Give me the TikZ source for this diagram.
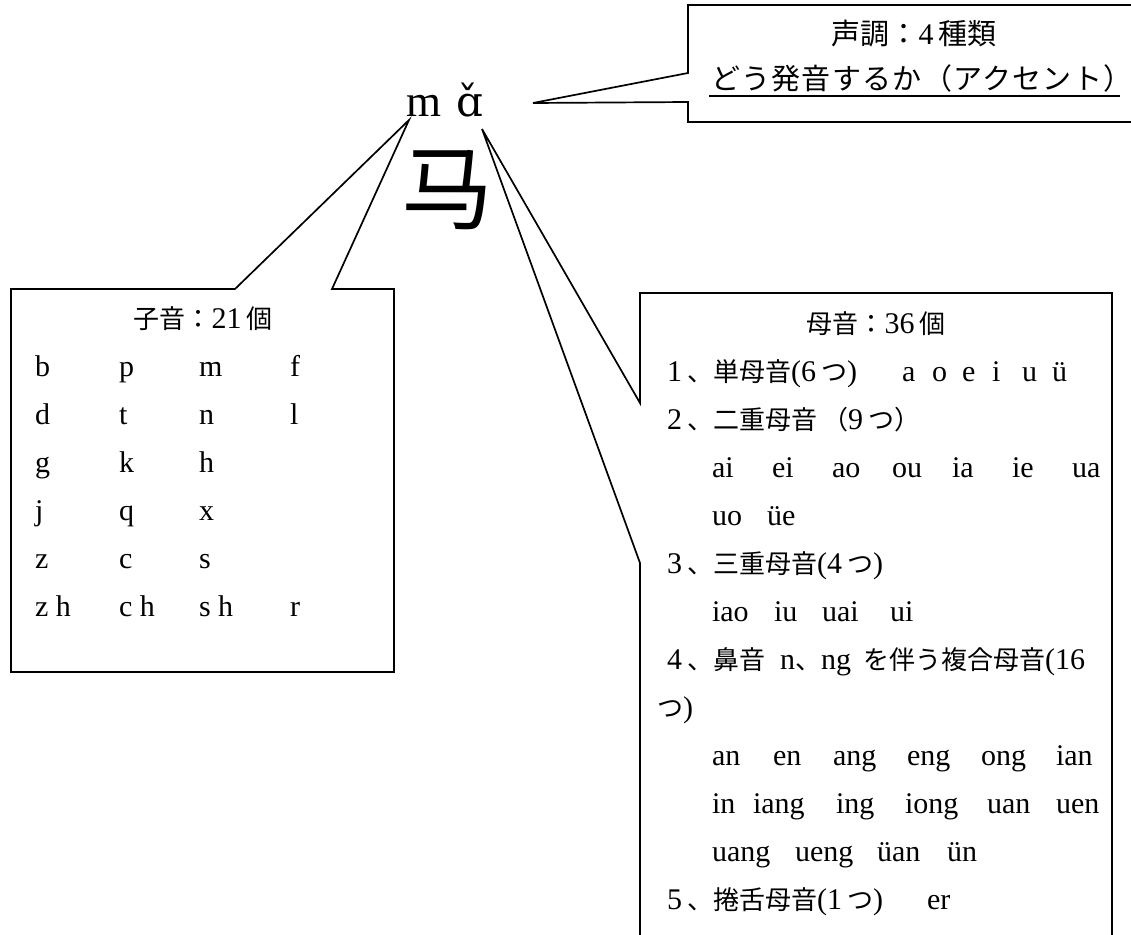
\documentclass[tikz,border=0pt]{standalone}
\usepackage{fontspec}
\setmainfont{Liberation Serif}
\newfontfamily\jpfont{Noto Sans CJK JP}
\newfontfamily\ipafont{DejaVu Serif}
\newcommand\J[1]{{\jpfont\fontsize{26}{26}\selectfont #1}}
\newcommand\JT[1]{{\jpfont\fontsize{29}{29}\selectfont #1}}
\newcommand\Dg[1]{\makebox[25pt][c]{#1}}
\begin{document}
\begin{tikzpicture}[x=1pt,y=-1pt,line width=1.7pt,line join=miter,
  every node/.style={inner sep=0pt,outer sep=0pt},
  lat/.style={anchor=base west,font=\fontsize{30}{30}\selectfont},
  mid/.style={anchor=base,font=\fontsize{30}{30}\selectfont},
  callout/.style={draw=black,line width=1.7pt}]
\useasboundingbox (0,0) rectangle (1131,934);
\fill[white] (0,0) rectangle (1131,934);

% apex points of the callouts
\coordinate (apexL) at (409,120);
\coordinate (apexR) at (482,129);
\coordinate (tipT) at (533,103);

% pinyin and character
\node[anchor=base west,font=\fontsize{45}{45}\selectfont] (m) at (406,116) {m};
\node[anchor=base west,font=\ipafont\fontsize{42}{42}\selectfont] (a) at (456,116) {ɑ̌};
\node[anchor=center,font=\jpfont\fontsize{92}{92}\selectfont] (ma) at (447,190) {马};

% top callout (tones)
\draw[callout] (1140,5) -- (688,5) -- (688,73) -- (tipT) -- (688,102) -- (688,122) -- (1140,122);
\node[mid] (tone1) at (914,45) {\JT{声調：}4\,\JT{種類}};
\node[anchor=base west] (tone2) at (711,89) {\jpfont\fontsize{29}{29}\selectfont\addfontfeature{LetterSpace=4.5}どう発音するか（アクセント）};
\draw[line width=1.7pt] (709,96) -- (1120,96);

% left callout (consonants)
\draw[callout] (apexL) -- (332,289) -- (394,289) -- (394,672) -- (11,672) -- (11,289) -- (235,289) -- cycle;
\node[mid] (ctitle) at (203,328) {\J{子音：}21\,\J{個}};
\foreach \y/\a/\b/\c/\d in {376/b/p/m/f, 424/d/t/n/l, 472/g/k/h/, 520/j/q/x/, 568/z/c/s/, 616/z h/c h/s h/r}{
  \node[lat] at (35,\y) {\a};
  \node[lat] at (119,\y) {\b};
  \node[lat] at (199,\y) {\c};
  \node[lat] at (290,\y) {\d};
}

% right callout (vowels)
\draw[callout] (640,940) -- (640,563) -- (apexR) -- (640,403) -- (640,293) -- (1112,293) -- (1112,940);
\node[mid] (vtitle) at (876,333) {\J{母音：}36\,\J{個}};
% row 1
\node[lat] (r1) at (662,381) {\Dg{1}\J{、単母音}(6\,\J{つ})};
\foreach \x/\w in {902/a,932/o,962/e,992/i,1022/u,1052/ü}{\node[lat] at (\x,381) {\w};}
% row 2
\node[lat] (r2) at (662,429) {\Dg{2}\J{、二重母音}\,\J{（}9\,\J{つ）}};
% row 3
\foreach \x/\w in {712/ai,772/ei,832/ao,892/ou,952/ia,1012/ie,1072/ua}{\node[lat] at (\x,477) {\w};}
% row 4
\foreach \x/\w in {712/uo,767/üe}{\node[lat] at (\x,525) {\w};}
% row 5
\node[lat] (r5) at (662,573) {\Dg{3}\J{、三重母音}(4\,\J{つ})};
% row 6
\foreach \x/\w in {712/iao,774/iu,822/uai,890/ui}{\node[lat] at (\x,621) {\w};}
% row 7
\node[lat] (r7a) at (662,669) {\Dg{4}\J{、鼻音}};
\node[lat] (r7b) at (780,669) {n\J{、}ng};
\node[lat] (r7c) at (863,669) {\J{を伴う複合母音}(16};
% row 8
\node[lat] (r8) at (657,717) {\J{つ})};
% row 9
\foreach \x/\w in {712/an,773/en,833/ang,907/eng,981/ong,1056/ian}{\node[lat] at (\x,765) {\w};}
% row 10
\foreach \x/\w in {712/in,753/iang,836/ing,905/iong,987/uan,1056/uen}{\node[lat] at (\x,813) {\w};}
% row 11
\foreach \x/\w in {712/uang,795/ueng,877/üan,947/ün}{\node[lat] at (\x,861) {\w};}
% row 12
\node[lat] (r12) at (662,909) {\Dg{5}\J{、捲舌母音}(1\,\J{つ})};
\node[lat] (er) at (927,909) {er};
\end{tikzpicture}
\end{document}
